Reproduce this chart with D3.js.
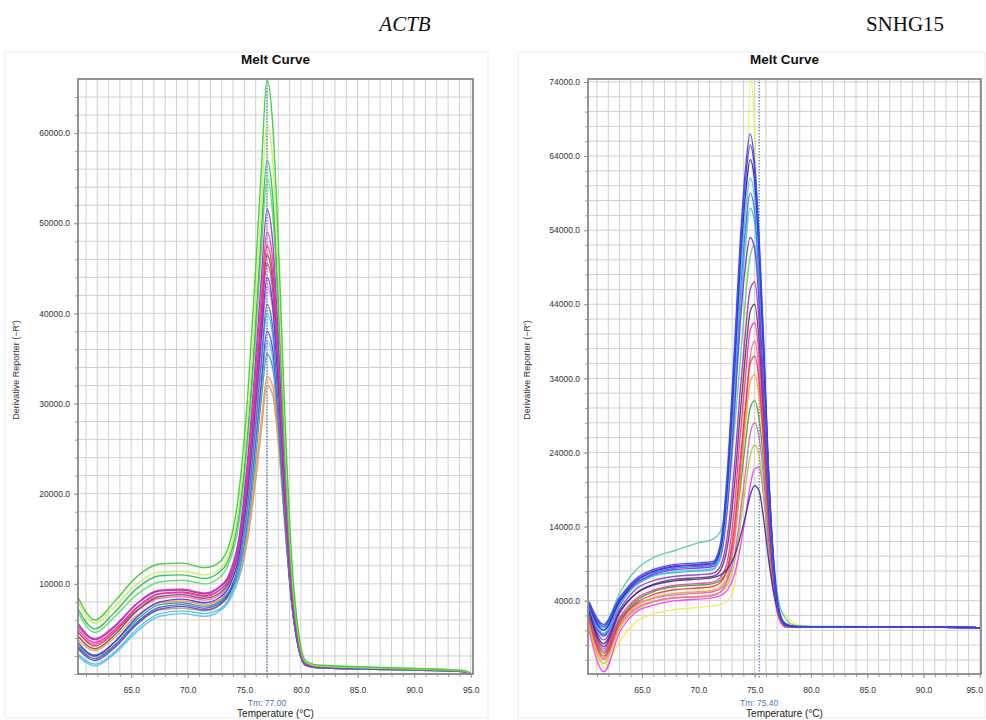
<!DOCTYPE html>
<html>
<head>
<meta charset="utf-8">
<script src="https://cdn.jsdelivr.net/npm/d3@7"></script>
<style>
  html, body { margin: 0; padding: 0; background: #fff; }
  svg { display: block; }
</style>
</head>
<body>
<svg id="chart" width="986" height="720"></svg>
<script>
// ---------------- DATA ----------------
// ACTB melt curves: temperatures (°C) and derivative reporter (-R') values
const tempACTB = [60.3, 61.8, 63.5, 65.5, 67.5, 69.5, 71.5, 72.7, 73.7, 74.5, 75.3, 76, 76.5, 77, 77.5, 78, 78.6, 79.2, 79.8, 80.4, 81.5, 88, 94.3, 95];

const actbA01 = [8500, 6000, 8000, 10800, 12200, 12300, 11800, 12300, 14500, 20000, 31000, 45000, 56000, 66000, 61000, 48000, 28000, 12500, 4500, 1500, 1000, 700, 400, 100];
const actbA02 = [8000, 5600, 7400, 10000, 11300, 11400, 11000, 11500, 13500, 18500, 28500, 41500, 52000, 61000, 57000, 44500, 26000, 11500, 4200, 1400, 900, 650, 380, 100];
const actbA03 = [7200, 5000, 6800, 9500, 10900, 11000, 10600, 11200, 13000, 17500, 27000, 39000, 49000, 57000, 53000, 41500, 24500, 11000, 4000, 1300, 900, 650, 380, 80];
const actbA04 = [6800, 4600, 6300, 8800, 10200, 10400, 10000, 10600, 12500, 16500, 26000, 37500, 47000, 55000, 51000, 40000, 23500, 10500, 3800, 1300, 900, 600, 350, 80];
const actbA05 = [5600, 3900, 5300, 7800, 9200, 9300, 8900, 9500, 11200, 15000, 24000, 35000, 44000, 51500, 48000, 37500, 22000, 9800, 3600, 1200, 850, 600, 350, 60];
const actbA06 = [5000, 3500, 4900, 7400, 8900, 9000, 8600, 9200, 10800, 14500, 23000, 33500, 42000, 49000, 46000, 36000, 21000, 9500, 3400, 1200, 850, 600, 330, 60];
const actbA07 = [4700, 3100, 4600, 7300, 8900, 9100, 8700, 9200, 10600, 14000, 22000, 32000, 40500, 47500, 44500, 35000, 20500, 9200, 3300, 1100, 800, 600, 330, 50];
const actbA08 = [4200, 2800, 4300, 7000, 8600, 8800, 8400, 8900, 10300, 13700, 21500, 31500, 39500, 46500, 43500, 34000, 20000, 9000, 3200, 1100, 800, 580, 320, 50];
const actbA09 = [3500, 2000, 3500, 6300, 8000, 8300, 7900, 8400, 9800, 13000, 20500, 30000, 37500, 44000, 41000, 32000, 19000, 8500, 3000, 1000, 750, 550, 300, 40];
const actbA10 = [4600, 3300, 4700, 7000, 8400, 8600, 8200, 8700, 10000, 12800, 20000, 29000, 36500, 43000, 40500, 31500, 18500, 8300, 3000, 1000, 750, 550, 300, 40];
const actbA11 = [3000, 1700, 3100, 5700, 7400, 7700, 7300, 7800, 9200, 12200, 19000, 28000, 35000, 41000, 38500, 30000, 17500, 7900, 2800, 1000, 720, 520, 280, 30];
const actbA12 = [2200, 1100, 2400, 5000, 6700, 7000, 6700, 7100, 8500, 11500, 18000, 27000, 34000, 40000, 37500, 29500, 17500, 8000, 2800, 1000, 700, 500, 280, 30];
const actbA13 = [2800, 1500, 2900, 5500, 7200, 7500, 7100, 7600, 9000, 11500, 17500, 26000, 32500, 38000, 36000, 28500, 17000, 7800, 2800, 1000, 700, 500, 280, 30];
const actbA14 = [2000, 900, 2200, 4700, 6400, 6700, 6400, 6900, 8200, 10800, 16800, 25000, 31500, 37000, 35000, 28000, 16800, 7800, 2800, 1000, 700, 500, 280, 30];
const actbA15 = [3200, 2100, 3500, 6000, 7700, 7900, 7500, 8000, 9200, 11300, 16500, 24000, 30500, 35500, 34000, 27500, 16500, 7600, 2800, 1000, 700, 500, 280, 30];
const actbA16 = [3800, 2600, 4000, 6500, 7900, 8100, 7700, 8200, 9300, 11000, 15500, 22500, 28000, 33000, 32000, 26500, 16500, 7800, 3000, 1100, 750, 520, 280, 30];
const actbA17 = [3000, 1900, 3200, 5700, 7100, 7300, 7000, 7500, 8700, 10500, 15000, 21500, 27000, 32000, 31000, 25500, 16000, 7500, 2800, 1000, 700, 500, 280, 30];
const actbA18 = [5300, 3800, 5200, 7800, 9300, 9400, 9000, 9600, 11000, 14000, 21500, 31000, 39000, 45500, 42500, 33500, 19500, 8800, 3200, 1100, 800, 580, 320, 50];

const actbSeries = [actbA17, actbA16, actbA15, actbA14, actbA13, actbA12, actbA11, actbA10, actbA09, actbA08, actbA07, actbA18, actbA06, actbA05, actbA04, actbA03, actbA02, actbA01];
const actbColors = ["#cc9966", "#ff9933", "#339999", "#55b8ff", "#6633cc", "#33cccc", "#3366cc", "#ff6699", "#3333ff", "#555566", "#ee3333", "#cc3399", "#ff22cc", "#9933cc", "#55dd66", "#22bb55", "#ccee55", "#33cc33"];

// SNHG15 melt curves
const tempSNHG = [60.3, 61.6, 63, 64.5, 66, 68, 70, 71.3, 72, 72.6, 73.2, 73.7, 74.2, 74.6, 75.0, 75.4, 75.8, 76.2, 76.7, 77.2, 77.8, 78.5, 80, 88, 94.5, 95];

const snhgB01 = [3800, 800, 4400, 7000, 8200, 8900, 9100, 9300, 12000, 22000, 38000, 52000, 62500, 67000, 63000, 53000, 39000, 23000, 9000, 2500, 700, 500, 500, 470, 380, 250];
const snhgB02 = [3500, 500, 4200, 6800, 8000, 8700, 8900, 9100, 11500, 21000, 36500, 50500, 61000, 65500, 62000, 52000, 38500, 22500, 8800, 2400, 700, 500, 500, 470, 380, 250];
const snhgB03 = [3300, 0, 3900, 6600, 7900, 8600, 8800, 9000, 11200, 20000, 35000, 49000, 59000, 63500, 60500, 51000, 37500, 22000, 8600, 2300, 650, 500, 500, 460, 370, 250];
const snhgB04 = [3200, -400, 3500, 6100, 7300, 7900, 8100, 8300, 10500, 18500, 33000, 46500, 56500, 61000, 58500, 49500, 36500, 21500, 8400, 2200, 650, 500, 500, 460, 370, 250];
const snhgB05 = [3000, -800, 3300, 6300, 7700, 8400, 8600, 8800, 10800, 18500, 32000, 45000, 54500, 59000, 56500, 48000, 35500, 21000, 8200, 2200, 650, 500, 500, 460, 370, 250];
const snhgB06 = [3900, 700, 5000, 8200, 9800, 10800, 11800, 12300, 13500, 18000, 27000, 36000, 45000, 50500, 52000, 46000, 35000, 21500, 9500, 3500, 1500, 700, 520, 480, 380, 250];
const snhgB07 = [600, -5000, -1500, 1200, 2200, 2800, 3100, 3300, 3500, 4000, 6000, 14000, 45000, 74500, 68000, 45000, 26000, 14000, 6000, 2800, 2000, 900, 520, 470, 370, 250];
const snhgB08 = [2800, -1300, 2800, 5600, 6700, 7300, 7500, 7700, 8800, 13000, 22000, 32000, 40500, 46000, 47000, 41500, 31000, 18500, 7500, 2200, 650, 500, 500, 460, 370, 250];
const snhgB09 = [2500, -2200, 2300, 5000, 6200, 6900, 7100, 7300, 8200, 11500, 19500, 29000, 37500, 43000, 44000, 39000, 29500, 17500, 7200, 2100, 600, 500, 500, 450, 360, 250];
const snhgB10 = [2200, -2800, 1700, 4300, 5400, 6100, 6300, 6500, 7200, 9500, 16500, 26000, 34500, 40500, 41500, 37000, 28000, 16500, 6800, 1800, 500, 480, 500, 450, 360, 250];
const snhgB11 = [1500, -3500, 1000, 3700, 4800, 5500, 5700, 5900, 6500, 8500, 14000, 22500, 30500, 36000, 37000, 33500, 25500, 15500, 6400, 1700, 500, 480, 500, 450, 360, 250];
const snhgB12 = [900, -4000, 600, 3300, 4400, 5000, 5200, 5400, 5900, 7500, 12000, 20000, 28000, 33500, 34500, 31500, 24500, 15000, 6300, 1800, 550, 480, 500, 450, 360, 250];
const snhgB13 = [1800, -3100, 1300, 4000, 5200, 5900, 6100, 6300, 6800, 8300, 12500, 19000, 25500, 30000, 31000, 28500, 22500, 14000, 6200, 2000, 900, 550, 500, 450, 360, 250];
const snhgB14 = [2000, -2500, 1500, 3500, 4300, 4800, 5000, 5200, 5600, 6800, 10000, 15500, 21500, 26500, 28000, 26000, 20500, 12800, 5600, 1600, 500, 480, 500, 450, 360, 250];
const snhgB15 = [400, -4500, 300, 2800, 3800, 4400, 4600, 4800, 5200, 6200, 9000, 14000, 19500, 23500, 25000, 23500, 18500, 12000, 5500, 1800, 700, 500, 500, 450, 360, 250];
const snhgB16 = [0, -5600, -300, 2500, 3400, 4000, 4200, 4400, 4700, 5500, 7500, 11000, 15500, 19500, 21800, 22000, 18000, 11500, 5000, 1400, 400, 480, 500, 450, 360, 250];
const snhgB17 = [2600, -1800, 2500, 5000, 6100, 6700, 6900, 7100, 7500, 8300, 10000, 12500, 15500, 18200, 19500, 18800, 15000, 10000, 5000, 2000, 800, 550, 500, 450, 360, 250];
const snhgB18 = [1200, -3800, 700, 3000, 3900, 4400, 4500, 4700, 5200, 7000, 12500, 21000, 30000, 37000, 39000, 35000, 26500, 16000, 6500, 1700, 450, 480, 500, 450, 360, 250];
const snhgB19 = [3400, 300, 3900, 6300, 7400, 7800, 8000, 8200, 10000, 17000, 30000, 42500, 52500, 57000, 55000, 46500, 34500, 20500, 8000, 2100, 600, 500, 500, 460, 370, 250];
const snhgB20 = [3100, -600, 3600, 6200, 7500, 8200, 8400, 8600, 10200, 17000, 29500, 41000, 49500, 53000, 51500, 44000, 32500, 19500, 7800, 2100, 600, 500, 500, 460, 370, 250];

const snhgSeries = [snhgB07, snhgB16, snhgB15, snhgB14, snhgB13, snhgB12, snhgB18, snhgB11, snhgB10, snhgB09, snhgB08, snhgB06, snhgB17, snhgB19, snhgB20, snhgB05, snhgB04, snhgB03, snhgB02, snhgB01];
const snhgColors = ["#eeee55", "#ff33ff", "#aacc33", "#cc66cc", "#33aa33", "#ff9933", "#ff6699", "#ee3333", "#ee33aa", "#663366", "#9933cc", "#55cc99", "#333399", "#44bbcc", "#7733dd", "#4466ff", "#33ccdd", "#2222aa", "#6633ff", "#3344ee"];

// Tick labels
const xTickValues = [65, 70, 75, 80, 85, 90, 95];
const yTicksACTB = [10000, 20000, 30000, 40000, 50000, 60000];
const yTicksSNHG = [4000, 14000, 24000, 34000, 44000, 54000, 64000, 74000];

// Panel headings / annotations
const geneLabels = ["ACTB", "SNHG15"];
const tmValues = [77.00, 75.40];
const chartTitle = "Melt Curve";
const xTitle = "Temperature (°C)";
const yTitle = "Derivative Reporter (\u2212R')";

// ---------------- DRAWING ----------------
const svg = d3.select("#chart");

function drawPanel(cfg) {
  const g = svg.append("g");
  const x = d3.scaleLinear().domain(cfg.xDomain).range([cfg.left, cfg.right]);
  const y = d3.scaleLinear().domain(cfg.yDomain).range([cfg.bottom, cfg.top]);

  // faint panel frame
  g.append("rect")
    .attr("x", cfg.frame[0]).attr("y", cfg.frame[1])
    .attr("width", cfg.frame[2]).attr("height", cfg.frame[3])
    .attr("fill", "none").attr("stroke", "#eeeeee").attr("stroke-width", 1);

  // gene label
  g.append("text")
    .attr("x", cfg.geneX).attr("y", 31)
    .attr("text-anchor", "middle")
    .attr("font-family", "'Liberation Serif', 'Times New Roman', serif")
    .attr("font-size", 21)
    .attr("font-style", cfg.geneItalic ? "italic" : "normal")
    .attr("fill", "#111")
    .text(cfg.gene);

  // title
  g.append("text")
    .attr("x", (cfg.left + cfg.right) / 2).attr("y", 64)
    .attr("text-anchor", "middle")
    .attr("font-family", "'Liberation Sans', Arial, sans-serif")
    .attr("font-weight", "bold").attr("font-size", 13.5)
    .attr("fill", "#111")
    .text(chartTitle);

  // grid
  const xGrid = d3.range(Math.ceil(cfg.xDomain[0]), Math.floor(cfg.xDomain[1]) + 1, 1);
  const yGrid = d3.range(cfg.yGridStart, cfg.yDomain[1], 2000);
  g.append("g").selectAll("line").data(xGrid).join("line")
    .attr("x1", d => x(d)).attr("x2", d => x(d))
    .attr("y1", cfg.top).attr("y2", cfg.bottom)
    .attr("stroke", "#cfcfcf").attr("stroke-width", 1);
  g.append("g").selectAll("line").data(yGrid).join("line")
    .attr("x1", cfg.left).attr("x2", cfg.right)
    .attr("y1", d => y(d)).attr("y2", d => y(d))
    .attr("stroke", "#cfcfcf").attr("stroke-width", 1);

  // clip
  const clipId = "clip-" + cfg.id;
  svg.append("clipPath").attr("id", clipId)
    .append("rect").attr("x", cfg.left).attr("y", cfg.top)
    .attr("width", cfg.right - cfg.left).attr("height", cfg.bottom - cfg.top);

  // Tm line
  g.append("line")
    .attr("x1", x(cfg.tm)).attr("x2", x(cfg.tm))
    .attr("y1", cfg.top).attr("y2", cfg.bottom + 4)
    .attr("stroke", "#4d7aa8").attr("stroke-width", 1.2)
    .attr("stroke-dasharray", "1.5,1.5");

  // curves
  const line = d3.line()
    .x((d, i) => x(cfg.temps[i]))
    .y(d => y(d))
    .curve(d3.curveMonotoneX);
  g.append("g").attr("clip-path", `url(#${clipId})`)
    .selectAll("path").data(cfg.series).join("path")
    .attr("d", d => line(d))
    .attr("fill", "none")
    .attr("stroke", (d, i) => cfg.colors[i])
    .attr("stroke-width", 1.4)
    .attr("stroke-opacity", 0.9);

  // frame
  g.append("rect")
    .attr("x", cfg.left).attr("y", cfg.top)
    .attr("width", cfg.right - cfg.left).attr("height", cfg.bottom - cfg.top)
    .attr("fill", "none").attr("stroke", "#7a7a7a").attr("stroke-width", 1.6);

  // axes
  const fontAxis = "'Liberation Sans', Arial, sans-serif";
  const xAxis = g.append("g").attr("transform", `translate(0,${cfg.bottom})`)
    .call(d3.axisBottom(x).tickValues(xTickValues).tickFormat(d3.format(".1f")).tickSize(4).tickPadding(9));
  const xMinor = g.append("g").attr("transform", `translate(0,${cfg.bottom})`)
    .call(d3.axisBottom(x).tickValues(xGrid).tickFormat("").tickSize(3));
  const yAxis = g.append("g").attr("transform", `translate(${cfg.left},0)`)
    .call(d3.axisLeft(y).tickValues(cfg.yTicks).tickFormat(d3.format(".1f")).tickSize(4).tickPadding(4));
  const yMinor = g.append("g").attr("transform", `translate(${cfg.left},0)`)
    .call(d3.axisLeft(y).tickValues(yGrid).tickFormat("").tickSize(3));
  [xAxis, xMinor, yAxis, yMinor].forEach(a => {
    a.select(".domain").remove();
    a.selectAll("line").attr("stroke", "#999");
    a.selectAll("text").attr("font-family", fontAxis).attr("font-size", 8.5).attr("fill", "#333");
  });
  // keep the last x label inside the picture
  if (cfg.lastLabelEnd) {
    xAxis.selectAll(".tick").filter(d => d === xTickValues[xTickValues.length - 1])
      .select("text").attr("text-anchor", "end").attr("dx", "0.3em");
  }

  // Tm text
  g.append("text")
    .attr("x", x(cfg.tm)).attr("y", 706)
    .attr("text-anchor", "middle")
    .attr("font-family", fontAxis).attr("font-size", 8.5)
    .attr("fill", "#4a78b0")
    .text("Tm: " + cfg.tm.toFixed(2));

  // x title
  g.append("text")
    .attr("x", (cfg.left + cfg.right) / 2).attr("y", 717)
    .attr("text-anchor", "middle")
    .attr("font-family", fontAxis).attr("font-size", 10)
    .attr("fill", "#222")
    .text(xTitle);

  // y title
  g.append("text")
    .attr("transform", `translate(${cfg.yTitleX},370) rotate(-90)`)
    .attr("text-anchor", "middle")
    .attr("font-family", fontAxis).attr("font-size", 9)
    .attr("fill", "#333")
    .text(yTitle);
}

drawPanel({
  id: "actb", gene: geneLabels[0], geneItalic: true, geneX: 405,
  left: 78, right: 473, top: 79, bottom: 674,
  xDomain: [60.3, 95.2], yDomain: [0, 66000], yGridStart: 0,
  yTicks: yTicksACTB, tm: tmValues[0],
  temps: tempACTB, series: actbSeries, colors: actbColors,
  frame: [5, 52, 483, 666], yTitleX: 19, lastLabelEnd: false
});

drawPanel({
  id: "snhg", gene: geneLabels[1], geneItalic: false, geneX: 905,
  left: 588, right: 981, top: 79, bottom: 674,
  xDomain: [60.2, 95.1], yDomain: [-5900, 74400], yGridStart: -4000,
  yTicks: yTicksSNHG, tm: tmValues[1],
  temps: tempSNHG, series: snhgSeries, colors: snhgColors,
  frame: [518, 52, 467, 666], yTitleX: 530, lastLabelEnd: true
});
</script>
</body>
</html>
